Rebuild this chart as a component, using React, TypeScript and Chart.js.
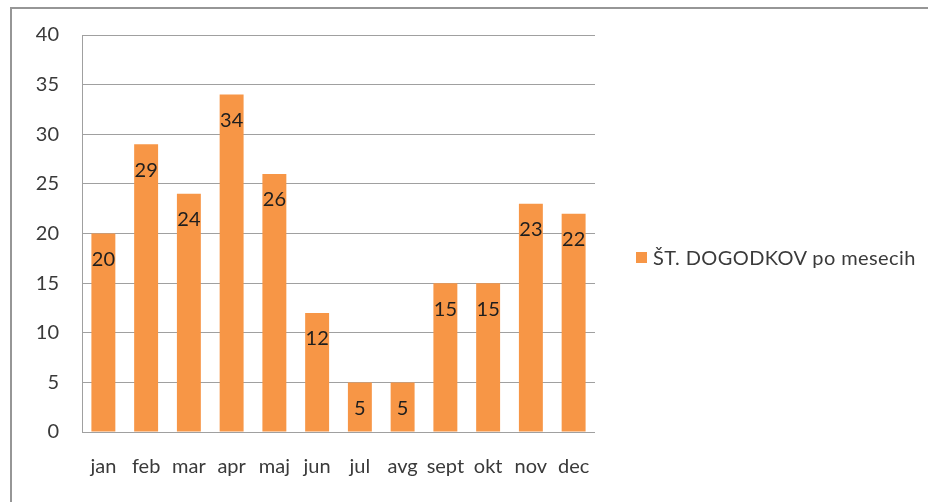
import React, { useEffect, useRef } from "react";
import { Chart, registerables } from "chart.js";

Chart.register(...registerables);

const months = ["jan", "feb", "mar", "apr", "maj", "jun", "jul", "avg", "sept", "okt", "nov", "dec"];
const events = [20, 29, 24, 34, 26, 12, 5, 5, 15, 15, 23, 22];
const seriesName = "ŠT. DOGODKOV po mesecih";
const yMax = 40;
const yStep = 5;

const FONT = "Lato, 'Open Sans', sans-serif";
const BAR = "#F79646";

const valueLabels = {
  id: "valueLabels",
  afterDatasetsDraw(chart: any) {
    const ctx = chart.ctx;
    const meta = chart.getDatasetMeta(0);
    ctx.save();
    ctx.font = `20px ${FONT}`;
    ctx.fillStyle = "#1e1e1e";
    ctx.textAlign = "center";
    ctx.textBaseline = "middle";
    meta.data.forEach((bar: any, i: number) => {
      ctx.fillText(String(chart.data.datasets[0].data[i]), bar.x, bar.y + 26);
    });
    ctx.restore();
  },
};

export default function App() {
  const ref = useRef<HTMLCanvasElement>(null);
  useEffect(() => {
    if (!ref.current) return;
    const chart = new Chart(ref.current, {
      type: "bar",
      data: {
        labels: months,
        datasets: [
          {
            label: seriesName,
            data: events,
            backgroundColor: BAR,
            barPercentage: 0.56,
            categoryPercentage: 1,
          },
        ],
      },
      options: {
        animation: false,
        responsive: false,
        layout: { padding: { left: 0, top: 32, right: 333, bottom: 0 } },
        plugins: { legend: { display: false }, tooltip: { enabled: false } },
        scales: {
          x: {
            grid: { display: false, drawTicks: false },
            border: { display: false },
            ticks: {
              color: "#3a3a3a",
              font: { family: FONT, size: 20 },
              padding: 23,
              maxRotation: 0,
              minRotation: 0,
              autoSkip: false,
            },
            afterFit: (s: any) => {
              s.height = 70;
            },
          },
          y: {
            min: 0,
            max: yMax,
            ticks: { stepSize: yStep, color: "#3a3a3a", font: { family: FONT, size: 20 }, padding: 23 },
            grid: { color: "#a0a0a0", drawTicks: false, lineWidth: 1 },
            border: { display: true, color: "#a0a0a0" },
            afterFit: (s: any) => {
              s.width = 82;
            },
          },
        },
      },
      plugins: [valueLabels],
    });
    return () => chart.destroy();
  }, []);
  return (
    <div style={{ position: "fixed", left: 0, top: 0, width: 928, height: 502, background: "#fff", overflow: "hidden" }}>
      <div
        style={{
          position: "absolute",
          left: 10,
          top: 7,
          width: 940,
          height: 520,
          borderTop: "2px solid #969696",
          borderLeft: "2px solid #969696",
        }}
      />
      <canvas ref={ref} width={928} height={502} style={{ position: "absolute", left: 0, top: 0 }} />
      <div
        style={{
          position: "absolute",
          left: 636,
          top: 245,
          display: "flex",
          alignItems: "center",
          fontFamily: FONT,
          fontSize: 20,
          letterSpacing: "0.4px",
          color: "#3a3a3a",
          whiteSpace: "nowrap",
        }}
      >
        <span style={{ display: "inline-block", width: 11, height: 11, background: BAR, marginRight: 6 }} />
        <span>{seriesName}</span>
      </div>
    </div>
  );
}
